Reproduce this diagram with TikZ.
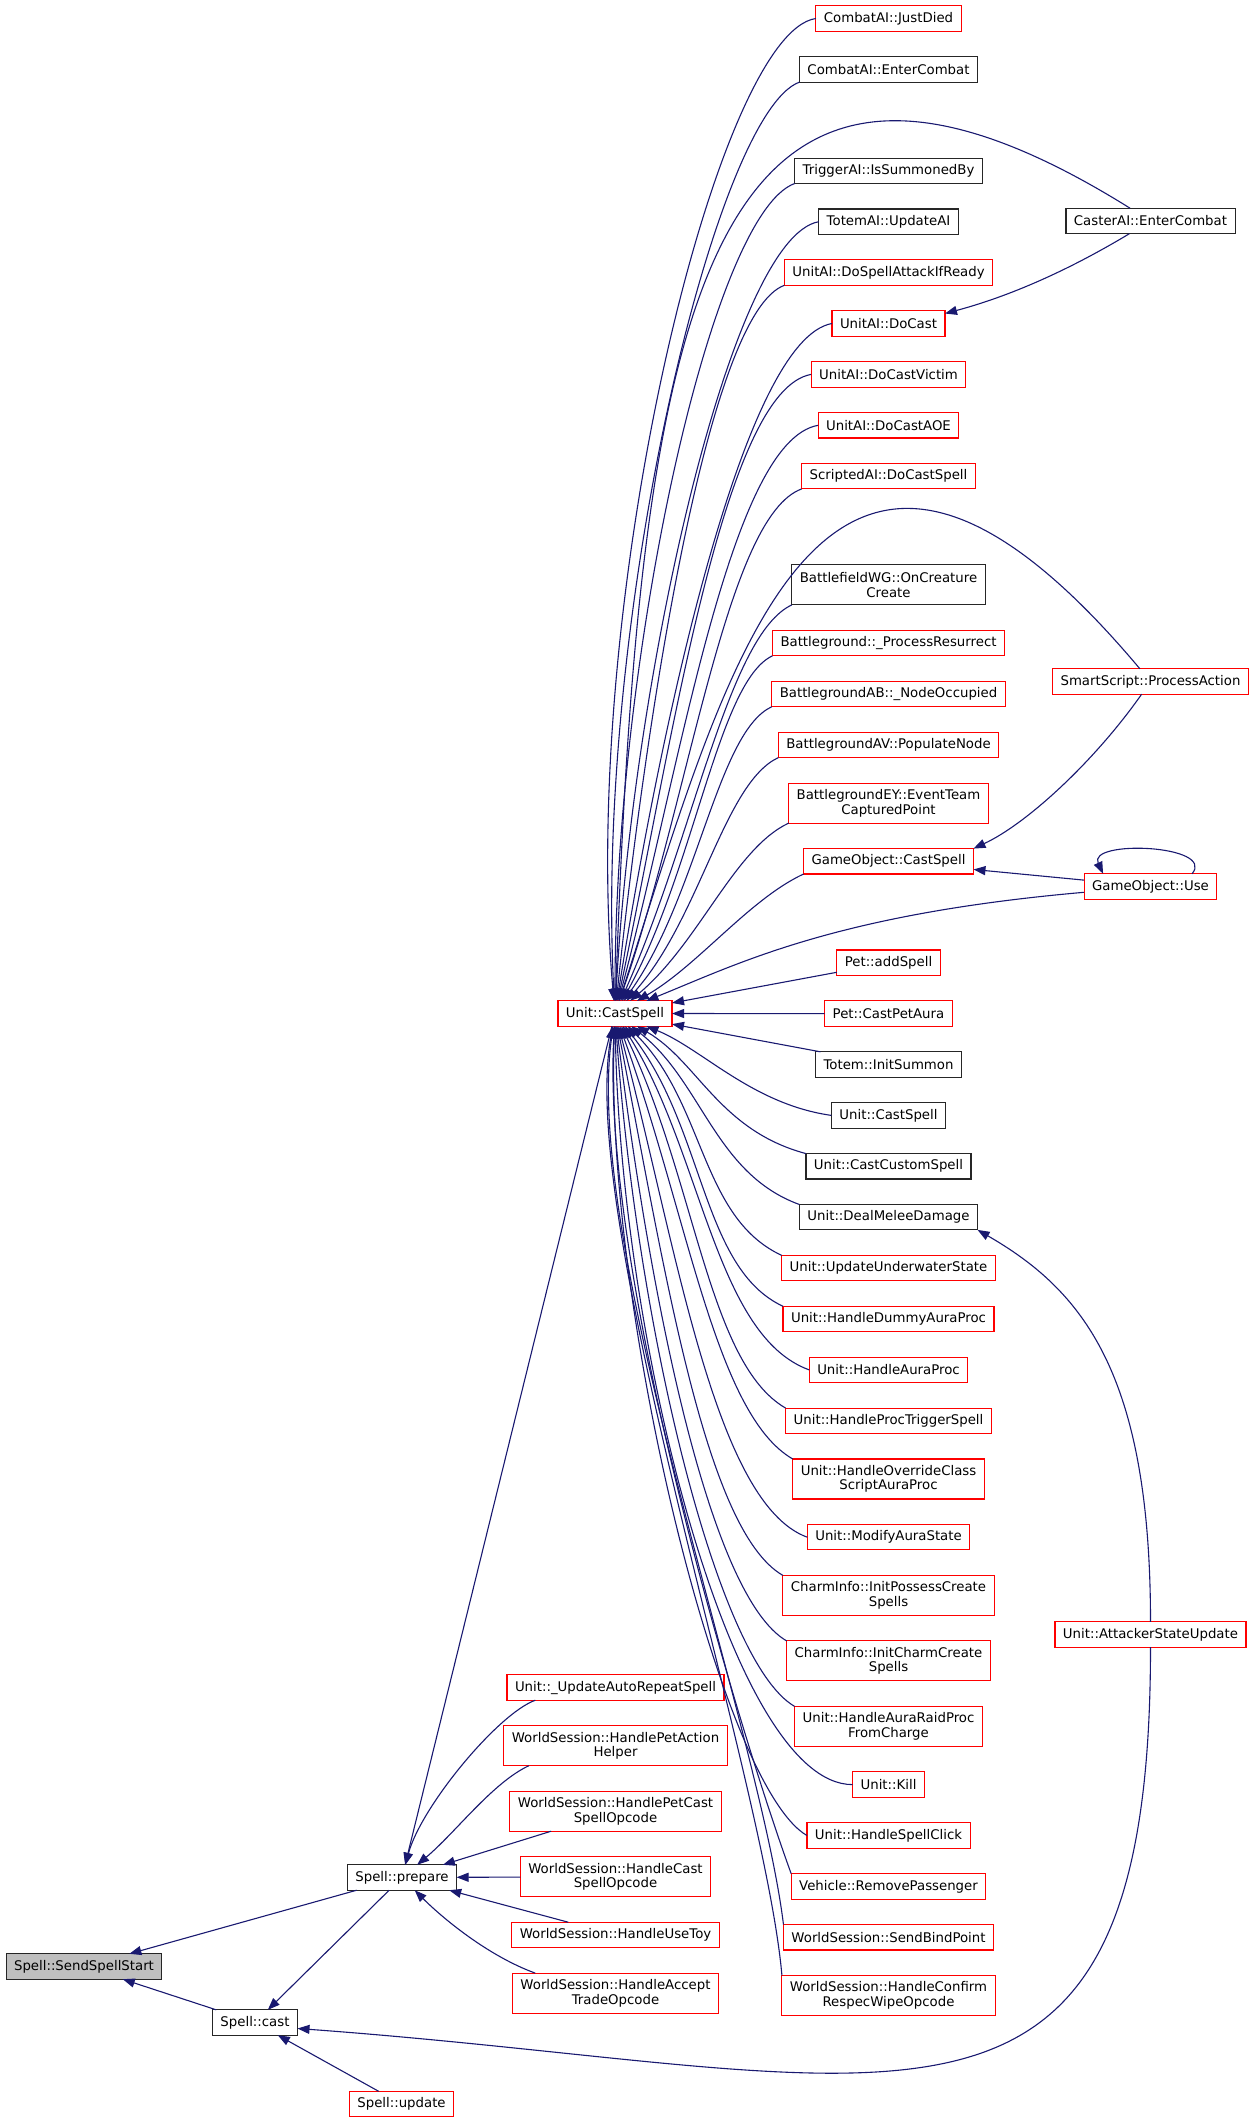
\documentclass[tikz,border=0pt]{standalone}
\usepackage{fontspec}
\setmainfont{DejaVu Sans}
\usetikzlibrary{arrows.meta,positioning}
\definecolor{edgeblue}{HTML}{191970}

\begin{document}
\begin{tikzpicture}[
        x=1pt, y=1pt,
        node distance=25.5pt,
        fn/.style={draw=black!85, fill=white, line width=1.1pt, align=center,
          font=\fontsize{13.3}{14.5}\selectfont, inner xsep=8pt, inner ysep=2pt,
          outer sep=0pt, minimum height=25.4pt},
        redfn/.style={fn, draw=red},
        rootfn/.style={fn, fill=gray!50},
        two/.style={minimum height=40pt},
        arr/.style={-{Triangle[length=12pt,width=9pt]}, draw=edgeblue, line width=1.1pt}
      ]
        \useasboundingbox (0,0) rectangle (1255,-2123);
        \node[rootfn] (sss) at (84,-1966.5) {Spell::SendSpellStart};
        \node[fn] (prep) at (402,-1877.5) {Spell::prepare};
        \node[fn] (cast) at (255,-2022.5) {Spell::cast};
        \node[redfn] (upd) at (401.5,-2104) {Spell::update};
        \node[redfn] (cs) at (615,-1013.5) {Unit::CastSpell};
        \node[redfn] (rep) at (615.5,-1687.5) {Unit::\_UpdateAutoRepeatSpell};
        \node[redfn, two, below=of rep] (pah) {WorldSession::HandlePetAction\\Helper};
        \node[redfn, two, below=of pah] (pc) {WorldSession::HandlePetCast\\SpellOpcode};
        \node[redfn, two, below=of pc] (hc) {WorldSession::HandleCast\\SpellOpcode};
        \node[redfn, below=of hc] (ut) {WorldSession::HandleUseToy};
        \node[redfn, two, below=of ut] (acc) {WorldSession::HandleAccept\\TradeOpcode};
        \node[redfn] (jd) at (888.5,-18.5) {CombatAI::JustDied};
        \node[fn, below=of jd] (ec) {CombatAI::EnterCombat};
        \node[fn, below=76pt of ec] (tr) {TriggerAI::IsSummonedBy};
        \node[fn, below=of tr] (ta) {TotemAI::UpdateAI};
        \node[redfn, below=of ta] (dsa) {UnitAI::DoSpellAttackIfReady};
        \node[redfn, below=of dsa] (dc) {UnitAI::DoCast};
        \node[redfn, below=of dc] (dcv) {UnitAI::DoCastVictim};
        \node[redfn, below=of dcv] (aoe) {UnitAI::DoCastAOE};
        \node[redfn, below=of aoe] (sds) {ScriptedAI::DoCastSpell};
        \node[fn, two, below=76pt of sds] (wg) {BattlefieldWG::OnCreature\\Create};
        \node[redfn, below=of wg] (bg) {Battleground::\_ProcessResurrect};
        \node[redfn, below=of bg] (ab) {BattlegroundAB::\_NodeOccupied};
        \node[redfn, below=of ab] (av) {BattlegroundAV::PopulateNode};
        \node[redfn, two, below=of av] (ey) {BattlegroundEY::EventTeam\\CapturedPoint};
        \node[redfn, below=of ey] (gocs) {GameObject::CastSpell};
        \node[redfn, below=76pt of gocs] (pas) {Pet::addSpell};
        \node[redfn, below=of pas] (cpa) {Pet::CastPetAura};
        \node[fn, below=of cpa] (tis) {Totem::InitSummon};
        \node[fn, below=of tis] (ucs) {Unit::CastSpell};
        \node[fn, below=of ucs] (ccs) {Unit::CastCustomSpell};
        \node[fn, below=of ccs] (dmd) {Unit::DealMeleeDamage};
        \node[redfn, below=of dmd] (uws) {Unit::UpdateUnderwaterState};
        \node[redfn, below=of uws] (dap) {Unit::HandleDummyAuraProc};
        \node[redfn, below=of dap] (hap) {Unit::HandleAuraProc};
        \node[redfn, below=of hap] (pts) {Unit::HandleProcTriggerSpell};
        \node[redfn, two, below=of pts] (ocs) {Unit::HandleOverrideClass\\ScriptAuraProc};
        \node[redfn, below=of ocs] (mas) {Unit::ModifyAuraState};
        \node[redfn, two, below=of mas] (ipc) {CharmInfo::InitPossessCreate\\Spells};
        \node[redfn, two, below=of ipc] (icc) {CharmInfo::InitCharmCreate\\Spells};
        \node[redfn, two, below=of icc] (arp) {Unit::HandleAuraRaidProc\\FromCharge};
        \node[redfn, below=of arp] (kill) {Unit::Kill};
        \node[redfn, below=of kill] (hsc) {Unit::HandleSpellClick};
        \node[redfn, below=of hsc] (vrp) {Vehicle::RemovePassenger};
        \node[redfn, below=of vrp] (sbp) {WorldSession::SendBindPoint};
        \node[redfn, two, below=of sbp] (crw) {WorldSession::HandleConfirm\\RespecWipeOpcode};
        \node[fn] (caster) at (1150.5,-221) {CasterAI::EnterCombat};
        \node[redfn] (ss) at (1150.5,-681.5) {SmartScript::ProcessAction};
        \node[redfn] (use) at (1150.5,-886.5) {GameObject::Use};
        \node[redfn] (ast) at (1150.5,-1634.5) {Unit::AttackerStateUpdate};
        \draw[arr] (prep) -- (sss);
        \draw[arr] (cast) -- (sss);
        \draw[arr] (prep) -- (cast);
        \draw[arr] (upd) -- (cast);
        \draw[arr] (ast.south) .. controls +(0,-553) and +(601,-44) .. (cast.-8);
        \draw[arr] (cs) -- (prep);
        \draw[arr] (rep.189) to[out=200, in=75, out distance=40, in distance=60] (prep);
        \draw[arr] (pah.193) to[out=205, in=40, out distance=40, in distance=50] (prep);
        \draw[arr] (pc) -- (prep);
        \draw[arr] (hc) -- (prep);
        \draw[arr] (ut) -- (prep);
        \draw[arr] (acc.166) to[out=160, in=-45, out distance=50, in distance=40] (prep);
        \draw[arr] (jd.west) to[out=188, in=95, out distance=100, in distance=400] (cs);
        \draw[arr] (ec.south west) to[out=200, in=93, out distance=90, in distance=380] (cs);
        \draw[arr] (caster) to[out=148, in=88, out distance=500, in distance=700] (cs);
        \draw[arr] (tr.south west) to[out=200, in=90, out distance=90, in distance=340] (cs);
        \draw[arr] (ta.west) to[out=190, in=87, out distance=90, in distance=320] (cs);
        \draw[arr] (dsa.south west) to[out=200, in=84, out distance=80, in distance=300] (cs);
        \draw[arr] (dc.west) to[out=190, in=81, out distance=90, in distance=280] (cs);
        \draw[arr] (dcv.west) to[out=190, in=78, out distance=90, in distance=260] (cs);
        \draw[arr] (aoe.west) to[out=190, in=75, out distance=90, in distance=240] (cs);
        \draw[arr] (sds.south west) to[out=200, in=71, out distance=80, in distance=220] (cs);
        \draw[arr] (ss) to[out=130, in=72, out distance=500, in distance=350] (cs);
        \draw[arr] (wg.south west) to[out=205, in=66, out distance=70, in distance=180] (cs);
        \draw[arr] (bg.south west) to[out=205, in=61, out distance=60, in distance=150] (cs);
        \draw[arr] (ab.south west) to[out=205, in=55, out distance=60, in distance=130] (cs);
        \draw[arr] (av.south west) to[out=205, in=48, out distance=60, in distance=110] (cs);
        \draw[arr] (ey.south west) to[out=205, in=40, out distance=60, in distance=90] (cs);
        \draw[arr] (gocs.south west) to[out=205, in=30, out distance=60, in distance=70] (cs);
        \draw[arr] (use) to[out=185, in=22, out distance=250, in distance=100] (cs);
        \draw[arr] (pas) -- (cs);
        \draw[arr] (cpa) -- (cs);
        \draw[arr] (tis) -- (cs);
        \draw[arr] (ucs.west) to[out=172, in=-22, out distance=80, in distance=60] (cs);
        \draw[arr] (ccs.north west) to[out=165, in=-30, out distance=90, in distance=70] (cs);
        \draw[arr] (dmd.north west) to[out=160, in=-38, out distance=90, in distance=90] (cs);
        \draw[arr] (uws.north west) to[out=155, in=-45, out distance=90, in distance=110] (cs);
        \draw[arr] (dap.north west) to[out=155, in=-52, out distance=90, in distance=130] (cs);
        \draw[arr] (hap.west) to[out=160, in=-58, out distance=100, in distance=150] (cs);
        \draw[arr] (pts.north west) to[out=150, in=-64, out distance=90, in distance=170] (cs);
        \draw[arr] (ocs.north west) to[out=150, in=-70, out distance=90, in distance=200] (cs);
        \draw[arr] (mas.west) to[out=160, in=-75, out distance=100, in distance=220] (cs);
        \draw[arr] (ipc.north west) to[out=150, in=-79, out distance=90, in distance=250] (cs);
        \draw[arr] (icc.north west) to[out=150, in=-83, out distance=90, in distance=270] (cs);
        \draw[arr] (arp.north west) to[out=150, in=-86, out distance=90, in distance=300] (cs);
        \draw[arr] (kill.west) to[out=180, in=-89, out distance=120, in distance=320] (cs);
        \draw[arr] (hsc.west) to[out=150, in=-92, out distance=100, in distance=280] (cs);
        \draw[arr] (vrp.north west) to[out=110, in=-93, out distance=150, in distance=250] (cs);
        \draw[arr] (sbp.north west) to[out=97, in=-98, out distance=200, in distance=220] (cs);
        \draw[arr] (crw.north west) to[out=95, in=-100, out distance=200, in distance=200] (cs);
        \draw[arr] (caster) to[out=211, in=15, out distance=80, in distance=60] (dc.10);
        \draw[arr] (ss) to[out=235, in=25, out distance=80, in distance=60] (gocs.north east);
        \draw[arr] (use) -- (gocs);
        \draw[arr] (use.17) to[out=50, in=115, distance=38] (use.165);
        \draw[arr] (ast.north) to[out=90, in=-30, out distance=250, in distance=120] (dmd.south east);
      \end{tikzpicture}
\end{document}
